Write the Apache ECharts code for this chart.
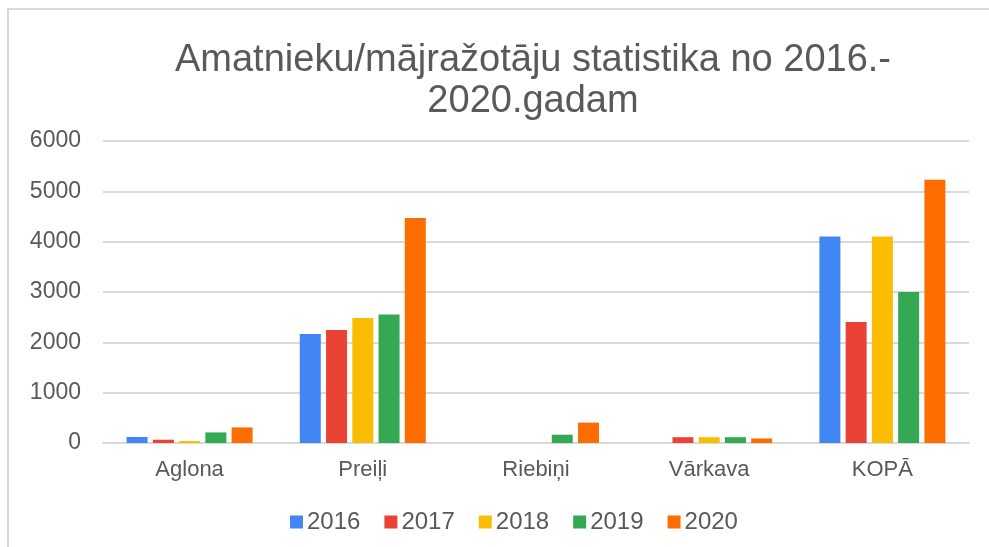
<!DOCTYPE html>
<html>
<head>
<meta charset="utf-8">
<script src="https://cdn.jsdelivr.net/npm/echarts@6/dist/echarts.min.js"></script>
<style>
  html, body { margin: 0; padding: 0; background: #fff; }
  #chart { width: 989px; height: 547px; }
  #frame {
    position: absolute; left: 7px; top: 8px; right: 0; bottom: 0;
    border-top: 2px solid #d9d9d9; border-left: 2px solid #d9d9d9;
    pointer-events: none;
  }
</style>
</head>
<body>
<div id="chart"></div>
<div id="frame"></div>
<script>
// kategorijas (pagasti) un gadi
var categories = ['Aglona', 'Preiļi', 'Riebiņi', 'Vārkava', 'KOPĀ'];
var years = ['2016', '2017', '2018', '2019', '2020'];
var colors = ['#4285f4', '#ea4335', '#fbbc04', '#34a853', '#ff6d01'];

// vērtības nolasītas no attēla
var data2016 = [120, 2165, 0, 0, 4105];
var data2017 = [65, 2245, 0, 115, 2405];
var data2018 = [40, 2485, 0, 115, 4105];
var data2019 = [210, 2555, 165, 115, 3000];
var data2020 = [310, 4470, 405, 90, 5230];

var seriesData = [data2016, data2017, data2018, data2019, data2020];

var chart = echarts.init(document.getElementById('chart'));

var series = [];
for (var i = 0; i < years.length; i++) {
  series.push({
    name: years[i],
    type: 'bar',
    data: seriesData[i],
    barWidth: 21,
    barGap: '25%',
    itemStyle: { color: colors[i] }
  });
}

var option = {
  animation: false,
  title: {
    text: 'Amatnieku/mājražotāju statistika no 2016.-\n2020.gadam',
    left: 528,
    top: 35,
    textAlign: 'center',
    textStyle: {
      fontFamily: 'Liberation Sans',
      fontSize: 38,
      fontWeight: 'normal',
      color: '#595959',
      lineHeight: 41,
      align: 'center'
    }
  },
  legend: {
    data: years,
    left: 285,
    top: 505,
    itemWidth: 13,
    itemHeight: 13,
    itemGap: 24,
    icon: 'rect',
    textStyle: { fontFamily: 'Liberation Sans', fontSize: 24, color: '#595959', padding: [0, 0, 0, -1] }
  },
  grid: { left: 103, right: 20, top: 141, bottom: 104 },
  xAxis: {
    type: 'category',
    data: categories,
    axisTick: { show: false },
    axisLine: { lineStyle: { color: '#d9d9d9', width: 2 } },
    axisLabel: { fontFamily: 'Liberation Sans', fontSize: 22, color: '#595959', margin: 16 }
  },
  yAxis: {
    type: 'value',
    min: 0,
    max: 6000,
    interval: 1000,
    axisLine: { show: false },
    axisTick: { show: false },
    axisLabel: {
      fontFamily: 'Liberation Sans', fontSize: 23, color: '#595959', margin: 22,
      formatter: function (v) { return String(v); }
    },
    splitLine: { lineStyle: { color: '#d9d9d9', width: 2 } }
  },
  series: series
};

chart.setOption(option);
</script>
</body>
</html>
